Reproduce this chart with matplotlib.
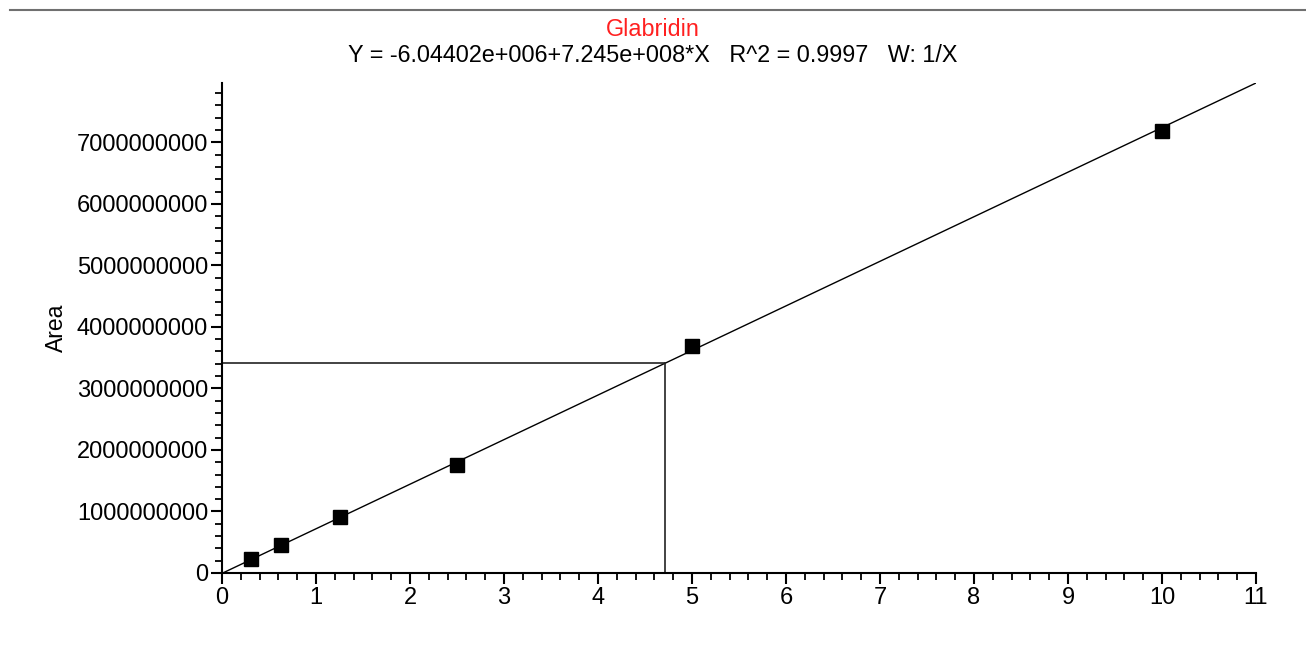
import numpy as np
import matplotlib.pyplot as plt
from matplotlib.lines import Line2D
from matplotlib.ticker import MultipleLocator

plt.rcParams['font.family'] = ['Liberation Sans', 'DejaVu Sans']

# calibration standards
conc = [0.3125, 0.625, 1.25, 2.5, 5.0, 10.0]
area = [0.227e9, 0.45e9, 0.905e9, 1.75e9, 3.69e9, 7.19e9]

# fit from the title
intercept = -6.04402e6
slope = 7.245e8

# unknown sample
sample_x = 4.71

title_name = "Glabridin"
title_eq = "Y = -6.04402e+006+7.245e+008*X   R^2 = 0.9997   W: 1/X"

fig = plt.figure(figsize=(13.06, 6.52), dpi=100)
ax = fig.add_axes([0.170, 0.1212, 0.7917, 0.7515])

xs = np.array([0, 11])
ax.plot(xs, intercept + slope * xs, color='black', lw=1.0)
ax.plot(conc, area, 's', color='black', ms=10)

sample_y = intercept + slope * sample_x
ax.plot([0, sample_x], [sample_y, sample_y], color='#222222', lw=1.2)
ax.plot([sample_x, sample_x], [0, sample_y], color='#222222', lw=1.2)

ax.set_xlim(0, 11)
ax.set_ylim(0, intercept + slope * 11)
ax.xaxis.set_major_locator(MultipleLocator(1))
ax.xaxis.set_minor_locator(MultipleLocator(0.2))
ax.yaxis.set_major_locator(MultipleLocator(1e9))
ax.yaxis.set_minor_locator(MultipleLocator(2e8))
ax.yaxis.set_major_formatter(plt.FuncFormatter(lambda v, p: f"{v:.0f}"))

for s in ['top', 'right']:
    ax.spines[s].set_visible(False)
for s in ['left', 'bottom']:
    ax.spines[s].set_linewidth(1.5)
ax.tick_params(which='major', length=8, width=1.5, labelsize=17, pad=2)
ax.tick_params(which='minor', length=5, width=1.3)
ax.set_ylabel("Area", fontsize=16.5, labelpad=6)

fig.text(0.5, 0.955, title_name, color='#ff2020', ha='center', va='center', fontsize=16.8)
fig.text(0.5, 0.915, title_eq, color='black', ha='center', va='center', fontsize=16.8)

fig.add_artist(Line2D([10 / 1306, 1.0], [1 - 10 / 652, 1 - 10 / 652],
                      color='#707070', lw=1.5))

fig.savefig('out.png', dpi=100)
